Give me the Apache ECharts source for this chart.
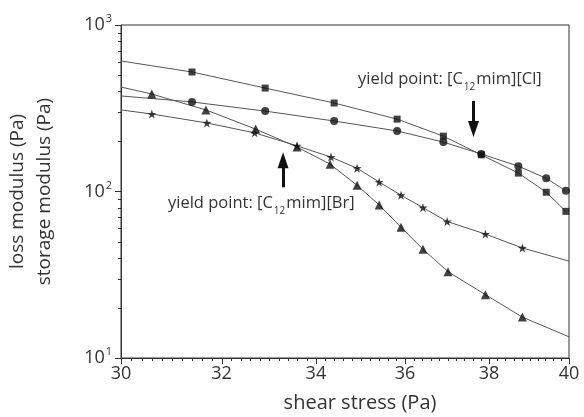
<!DOCTYPE html>
<html>
<head>
<meta charset="utf-8">
<script src="https://cdn.jsdelivr.net/npm/echarts@6/dist/echarts.min.js"></script>
<style>
  html, body { margin: 0; padding: 0; background: #fff; }
  #chart { width: 584px; height: 417px; }
</style>
</head>
<body>
<div id="chart"></div>
<script>
// shear stress (Pa) / modulus (Pa)
const sqX = [31.40, 32.91, 34.40, 35.82, 36.90, 37.81, 38.72, 39.42, 39.92];
const sqY = [522, 418, 340, 272, 215, 166, 129, 99, 76];
const ciX = [31.40, 32.91, 34.40, 35.82, 36.90, 37.81, 38.72, 39.42, 39.92];
const ciY = [345, 304, 265, 231, 198, 168, 142, 120, 101];
const trX = [30.60, 31.68, 32.71, 33.59, 34.31, 34.91, 35.41, 35.91, 36.42, 37.01, 37.91, 38.82];
const trY = [385, 309, 237, 185, 146, 109, 83, 61, 45, 33, 24, 17.6];
const stX = [30.60, 31.70, 32.69, 33.59, 34.33, 34.91, 35.41, 35.91, 36.42, 36.99, 37.91, 38.82];
const stY = [292, 258, 225, 188, 161, 138, 114, 95, 80, 66, 55.5, 45.8];

// where the drawn curves start / end outside the measured points
const sqStart = [30, 608];
const ciStart = [30, 375];
const trStart = [30, 424];
const trEnd = [40, 13.4];
const stStart = [30, 309];
const stEnd = [40, 38.2];

const xTicks = [30, 32, 34, 36, 38, 40];
const yTicks = [10, 100, 1000];

// yield point arrows [x, yFrom, yTo]
const brArrow = [33.29, 106, 154];
const clArrow = [37.62, 350, 237];

const STAR = 'path://M0,-10L2.35,-3.24L9.51,-3.09L3.8,1.24L5.88,8.09L0,4L-5.88,8.09L-3.8,1.24L-9.51,-3.09L-2.35,-3.24Z';
const FONT = '"Open Sans", "Noto Sans", sans-serif';

function pairs(xs, ys) {
  return xs.map(function (x, i) { return [x, ys[i]]; });
}

function curve(name, xs, ys, start, end) {
  var d = pairs(xs, ys);
  if (start) d.unshift(start);
  if (end) d.push(end);
  return {
    name: name + ' line',
    type: 'line',
    data: d,
    showSymbol: false,
    symbol: 'none',
    silent: true,
    lineStyle: { color: '#555', width: 1 },
    z: 2
  };
}

function marks(name, xs, ys, symbol, size) {
  return {
    name: name,
    type: 'scatter',
    data: pairs(xs, ys),
    symbol: symbol,
    symbolSize: size,
    itemStyle: { color: '#111' },
    z: 3
  };
}

function yieldLabel(text, left, top) {
  return {
    type: 'text',
    left: left, top: top,
    style: {
      text: text,
      font: '16.5px ' + FONT,
      lineHeight: 26,
      fill: '#333',
      rich: { sub: { fontSize: 10, lineHeight: 10, verticalAlign: 'bottom', fill: '#333', padding: [0, 1, 0, 1], fontFamily: FONT } }
    }
  };
}

var minorX = [];
for (var v = 300; v <= 400; v += 2) if (v % 20 !== 0) minorX.push(v / 10);
var minorY = [];
[10, 100].forEach(function (b) { for (var k = 2; k <= 9; k++) minorY.push(b * k); });

var chart = echarts.init(document.getElementById('chart'));

var labels = [
  yieldLabel('yield point: [C{sub|12}mim][Br]', 168, 190),
  yieldLabel('yield point: [C{sub|12}mim][Cl]', 358, 66)
];

chart.setOption({
  animation: false,
  textStyle: { fontFamily: FONT },
  grid: {
    left: 121, right: 15, top: 25, bottom: 59,
    show: true, borderColor: '#333', borderWidth: 1,
    outerBoundsMode: 'none'
  },
  xAxis: {
    type: 'log',
    min: 30, max: 40,
    name: 'shear stress (Pa)',
    nameLocation: 'middle',
    nameGap: 35,
    nameTextStyle: { fontSize: 20, color: '#333', fontFamily: FONT, padding: [0, 0, 0, 30] },
    axisLine: { show: true, lineStyle: { color: '#333', width: 1 } },
    axisTick: { show: false },
    axisLabel: { customValues: xTicks, fontSize: 18, color: '#333', margin: 7, fontFamily: FONT },
    splitLine: { show: false }
  },
  yAxis: {
    type: 'log',
    min: 10, max: 1000,
    name: 'loss modulus (Pa)\nstorage modulus (Pa)',
    nameLocation: 'middle',
    nameRotate: 90,
    nameGap: 63,
    nameTextStyle: { fontSize: 19, color: '#333', lineHeight: 27, fontFamily: FONT },
    axisLine: { show: true, lineStyle: { color: '#333', width: 1 } },
    axisTick: { show: false },
    axisLabel: {
      customValues: yTicks,
      fontSize: 18, color: '#333', margin: 9, fontFamily: FONT,
      formatter: function (val) {
        return '10{sup|' + Math.round(Math.log10(val)) + '}';
      },
      rich: { sup: { fontSize: 11, color: '#333', padding: [0, 0, 12, 1], fontFamily: FONT } }
    },
    splitLine: { show: false }
  },
  graphic: labels,
  series: [
    curve('squares', sqX, sqY, sqStart, null),
    curve('circles', ciX, ciY, ciStart, null),
    curve('triangles', trX, trY, trStart, trEnd),
    curve('stars', stX, stY, stStart, stEnd),
    marks('squares', sqX, sqY, 'rect', 7),
    marks('circles', ciX, ciY, 'circle', 8),
    marks('triangles', trX, trY, 'triangle', 9),
    marks('stars', stX, stY, STAR, 9),
    {
      name: 'arrows',
      type: 'line',
      data: [],
      markLine: {
        silent: true,
        symbol: ['none', 'triangle'],
        symbolSize: [11, 16],
        label: { show: false },
        lineStyle: { color: '#111', width: 3, type: 'solid' },
        data: [
          [{ coord: [brArrow[0], brArrow[1]] }, { coord: [brArrow[0], brArrow[2]] }],
          [{ coord: [clArrow[0], clArrow[1]] }, { coord: [clArrow[0], clArrow[2]] }]
        ]
      }
    }
  ]
});

// axis ticks: placed with the chart's own log scales (major + minor, pointing out)
var x0 = chart.convertToPixel({ xAxisIndex: 0 }, 30);
var yBottom = chart.convertToPixel({ yAxisIndex: 0 }, 10);
var ticks = [];
function tickLine(x1, y1, x2, y2) {
  return {
    type: 'line', silent: true, z: 100,
    shape: { x1: x1, y1: y1, x2: x2, y2: y2 },
    style: { stroke: '#333', lineWidth: 1 }
  };
}
function addX(vals, len) {
  vals.forEach(function (val) {
    var px = Math.round(chart.convertToPixel({ xAxisIndex: 0 }, val)) + 0.5;
    ticks.push(tickLine(px, yBottom, px, yBottom + len));
  });
}
function addY(vals, len) {
  vals.forEach(function (val) {
    var py = Math.round(chart.convertToPixel({ yAxisIndex: 0 }, val)) + 0.5;
    ticks.push(tickLine(x0 - len, py, x0, py));
  });
}
addX(xTicks, 6);
addX(minorX, 3);
addY(yTicks, 6);
addY(minorY, 3);

chart.setOption({ graphic: labels.concat(ticks) });

window.addEventListener('resize', function () {
  chart.resize();
});
</script>
</body>
</html>
